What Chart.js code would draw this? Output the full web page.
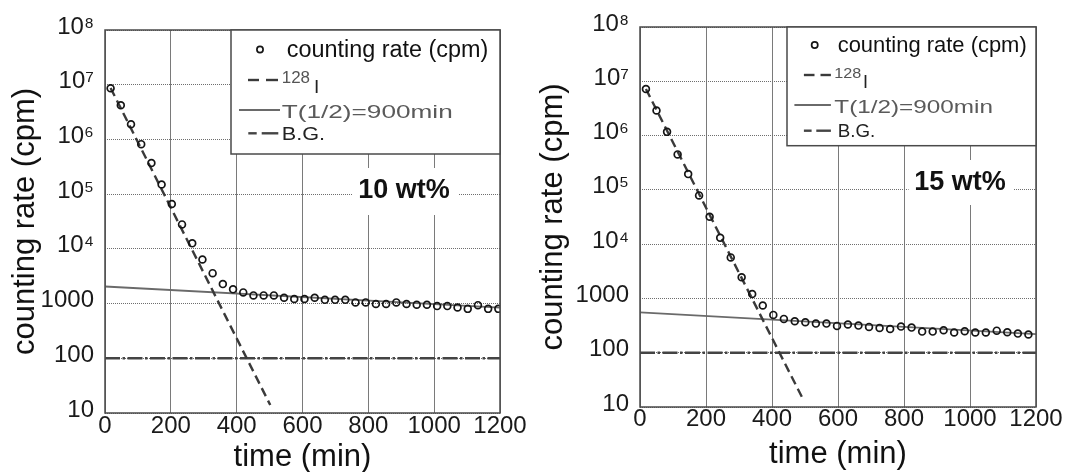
<!DOCTYPE html>
<html>
<head>
<meta charset="utf-8">
<script src="https://cdn.jsdelivr.net/npm/chart.js@4/dist/chart.umd.min.js"></script>
<style>
  html, body { margin: 0; padding: 0; background: #ffffff; }
  body { width: 1067px; height: 472px; position: relative; overflow: hidden; }
  .panel { position: absolute; top: 0; }
</style>
</head>
<body>
<div class="panel" style="left:0px;width:533px;height:472px;"><canvas id="cL" width="533" height="472"></canvas></div>
<div class="panel" style="left:533px;width:534px;height:472px;"><canvas id="cR" width="534" height="472"></canvas></div>
<script>
// ---------------- data ----------------
const seriesLabels = ['counting rate (cpm)', '128I', 'T(1/2)=900min', 'B.G.'];
const xTickValues = [0, 200, 400, 600, 800, 1000, 1200];
const xTickLabels = ['0', '200', '400', '600', '800', '1000', '1200'];
const yTickValues = [10, 100, 1000, 1e4, 1e5, 1e6, 1e7, 1e8];
const yTickLabels = ['10', '100', '1000', '10\u2074', '10\u2075', '10\u2076', '10\u2077', '10\u2078'];
const xTitle = 'time (min)';
const yTitle = 'counting rate (cpm)';
const panelNotes = ['10 wt%', '15 wt%'];

// left panel (10 wt%)
const timeL = [17, 48, 79, 110, 141, 172, 203, 234, 265, 296, 327, 358, 389, 420, 451, 482, 513, 544, 575, 606,
               637, 668, 699, 730, 761, 792, 823, 854, 885, 916, 947, 978, 1009, 1040, 1071, 1102, 1133, 1164, 1195];
const rateL = [8.6e6, 4.2e6, 1.9e6, 8.2e5, 3.7e5, 1.5e5, 6.6e4, 2.8e4, 1.26e4, 6.4e3, 3.6e3, 2270, 1820, 1600, 1410, 1410, 1410, 1280, 1210, 1210,
               1280, 1170, 1170, 1170, 1050, 1050, 980, 980, 1050, 980, 950, 950, 900, 900, 850, 800, 935, 800, 800];
const i128TimeL = [17, 502];
const i128RateL = [8.7e6, 14];
const halfTimeL = [0, 1200];
const halfRateL = [2050, 840];
const bgTimeL = [0, 1200];
const bgRateL = [100, 100];

// right panel (15 wt%)
const timeR = [18, 50, 82, 114, 146, 179, 211, 243, 275, 308, 340, 372, 404, 436, 469, 501, 533, 565, 597,
               630, 662, 694, 726, 758, 791, 823, 855, 887, 920, 952, 984, 1016, 1048, 1081, 1113, 1145, 1177];
const rateR = [7.2e6, 2.9e6, 1.17e6, 4.5e5, 1.95e5, 7.9e4, 3.2e4, 1.31e4, 5.7e3, 2450, 1210, 740, 497, 420, 379, 364, 344, 344, 312,
               330, 316, 299, 286, 274, 303, 290, 245, 245, 259, 235, 248, 235, 235, 255, 238, 225, 216];
const i128TimeR = [18, 497];
const i128RateR = [7.2e6, 12.8];
const halfTimeR = [0, 1200];
const halfRateR = [555, 220];
const bgTimeR = [0, 1200];
const bgRateR = [100, 100];

// ---------------- helpers ----------------
const FONT = '"Liberation Sans", Arial, Helvetica, sans-serif';
const pts = (xs, ys) => xs.map((x, i) => ({ x: x, y: ys[i] }));

function drawText(ctx, s, x, yb, font, color, targetW) {
  ctx.save();
  ctx.font = font; ctx.fillStyle = color; ctx.textAlign = 'left'; ctx.textBaseline = 'alphabetic';
  if (targetW) {
    const w = ctx.measureText(s).width;
    ctx.translate(x, yb); ctx.scale(targetW / w, 1); ctx.fillText(s, 0, 0);
  } else {
    ctx.fillText(s, x, yb);
  }
  ctx.restore();
}

const decoPlugin = {
  id: 'deco',
  afterDatasetsDraw(chart, args, opts) {
    const ctx = chart.ctx;
    const a = chart.chartArea;
    // annotation with white backing
    const n = opts.note;
    ctx.save();
    ctx.fillStyle = '#ffffff';
    ctx.fillRect(n.rect[0], n.rect[1], n.rect[2], n.rect[3]);
    ctx.font = 'bold 27px ' + FONT; ctx.fillStyle = '#111'; ctx.textAlign = 'center'; ctx.textBaseline = 'middle';
    ctx.fillText(n.text, n.cx, n.cy);
    ctx.restore();
    // plot frame
    ctx.save();
    ctx.strokeStyle = '#4a4a4a'; ctx.lineWidth = 1.5;
    ctx.strokeRect(a.left, a.top, a.right - a.left, a.bottom - a.top);
    ctx.restore();
    // legend box
    const L = opts.legend;
    ctx.save();
    ctx.fillStyle = '#ffffff';
    ctx.fillRect(L.box[0], L.box[1], L.box[2], L.box[3]);
    ctx.strokeStyle = '#4a4a4a'; ctx.lineWidth = 1.5;
    ctx.strokeRect(L.box[0], L.box[1], L.box[2], L.box[3]);
    ctx.restore();
    const ds = chart.data.datasets;
    L.rows.forEach((r, i) => {
      const d = ds[i];
      ctx.save();
      if (r.marker) {
        ctx.beginPath(); ctx.arc(r.marker[0], r.marker[1], r.marker[2], 0, Math.PI * 2);
        ctx.strokeStyle = d.pointBorderColor; ctx.lineWidth = d.pointBorderWidth; ctx.stroke();
      }
      if (r.segs) {
        ctx.strokeStyle = d.borderColor; ctx.lineWidth = d.borderWidth;
        r.segs.forEach(sg => { ctx.beginPath(); ctx.moveTo(sg[0], r.y); ctx.lineTo(sg[1], r.y); ctx.stroke(); });
      }
      ctx.restore();
      const label = d.label;
      const m = /^(\d+)(\D.*)$/.exec(label);
      if (m && r.sup) {
        drawText(ctx, m[1], r.sup[0], r.sup[1], r.sup[2] + 'px ' + FONT, '#555', r.sup[3]);
        drawText(ctx, m[2], r.main[0], r.main[1], r.main[2] + 'px ' + FONT, '#222');
      } else {
        drawText(ctx, label, r.text[0], r.text[1], r.text[2] + 'px ' + FONT, r.color, r.text[3]);
      }
    });
  }
};

function makeChart(id, data, cfg) {
  const datasets = [
    { label: seriesLabels[0], data: pts(data.t, data.r), showLine: false,
      pointRadius: 3.4, pointBorderWidth: 1.7, pointBorderColor: '#151515', pointBackgroundColor: 'rgba(0,0,0,0)',
      borderColor: '#151515' },
    { label: seriesLabels[1], data: pts(data.it, data.ir), showLine: true, pointRadius: 0,
      borderColor: '#3a3a3a', borderWidth: 2.4, borderDash: [9, 5] },
    { label: seriesLabels[2], data: pts(data.ht, data.hr), showLine: true, pointRadius: 0,
      borderColor: '#6a6a6a', borderWidth: 1.8 },
    { label: seriesLabels[3], data: pts(data.bt, data.br), showLine: true, pointRadius: 0,
      borderColor: '#444444', borderWidth: 2.4, borderDash: [15, 2.5, 2.5, 2.5] }
  ];
  return new Chart(document.getElementById(id), {
    type: 'scatter',
    data: { datasets },
    plugins: [decoPlugin],
    options: {
      responsive: false, animation: false, devicePixelRatio: 1,
      layout: { padding: cfg.padding },
      plugins: {
        legend: { display: false }, tooltip: { enabled: false },
        deco: { note: cfg.note, legend: cfg.legend }
      },
      scales: {
        x: {
          type: 'linear', min: 0, max: 1200,
          afterBuildTicks: s => { s.ticks = xTickValues.map(v => ({ value: v })); },
          afterFit: s => { s.height = cfg.xHeight; },
          ticks: { autoSkip: false, maxRotation: 0, padding: cfg.xTickPad, color: '#1a1a1a',
                   font: { family: FONT, size: 24, lineHeight: 1 },
                   callback: (v) => { const k = xTickValues.indexOf(v); return k >= 0 ? xTickLabels[k] : ''; } },
          grid: { color: '#7a7a7a', lineWidth: 1, drawTicks: false },
          border: { display: false },
          title: { display: true, text: xTitle, color: '#111',
                   font: { family: FONT, size: 31, lineHeight: 1 }, padding: { top: 0, bottom: cfg.xTitlePad } }
        },
        y: {
          type: 'logarithmic', min: 10, max: 1e8,
          afterBuildTicks: s => { s.ticks = yTickValues.map(v => ({ value: v, major: true })); },
          afterFit: s => { s.width = cfg.yWidth; },
          ticks: { autoSkip: false, padding: 11, labelOffset: -3, color: '#1a1a1a',
                   font: { family: FONT, size: 24, lineHeight: 1 },
                   callback: (v) => { const k = yTickValues.indexOf(v); return k >= 0 ? yTickLabels[k] : ''; } },
          grid: { color: '#6e6e6e', lineWidth: 1, drawTicks: false },
          border: { display: false, dash: [1, 1] },
          title: { display: true, text: yTitle, color: '#111',
                   font: { family: FONT, size: 31, lineHeight: 1 }, padding: { top: cfg.yTitlePad, bottom: 0 } }
        }
      }
    }
  });
}

makeChart('cL',
  { t: timeL, r: rateL, it: i128TimeL, ir: i128RateL, ht: halfTimeL, hr: halfRateL, bt: bgTimeL, br: bgRateL },
  {
    padding: { left: 0, top: 30, right: 33, bottom: 0 }, xHeight: 59, yWidth: 105,
    xTickPad: 1, xTitlePad: -1, yTitlePad: 10,
    note: { text: panelNotes[0], cx: 404, cy: 191, rect: [352, 168, 106, 47] },
    legend: {
      box: [231, 30, 269, 124],
      rows: [
        { marker: [260, 49.5, 3.1], text: [286.7, 56.7, 23, 201.7], color: '#111' },
        { y: 80, segs: [[248, 259], [266, 278]], sup: [281.7, 83.3, 16, 28.3], main: [314, 93.3, 19] },
        { y: 110, segs: [[239, 280]], text: [281.7, 117.7, 19, 171], color: '#5a5a5a' },
        { y: 133.3, segs: [[248.3, 256.7], [261.7, 278.3]], text: [281.7, 140, 19, 43.3], color: '#222' }
      ]
    }
  });

makeChart('cR',
  { t: timeR, r: rateR, it: i128TimeR, ir: i128RateR, ht: halfTimeR, hr: halfRateR, bt: bgTimeR, br: bgRateR },
  {
    padding: { left: 0, top: 27, right: 31, bottom: 0 }, xHeight: 65, yWidth: 107,
    xTickPad: 0, xTitlePad: 2.5, yTitlePad: 5.4,
    note: { text: panelNotes[1], cx: 427, cy: 182.5, rect: [375.6, 160, 104.7, 45] },
    legend: {
      box: [254, 27, 249, 118.7],
      rows: [
        { marker: [281.7, 45, 3.1], text: [304.7, 52.4, 21.5, 189], color: '#111' },
        { y: 75, segs: [[270.9, 281.5], [287.5, 297.9]], sup: [301.3, 78.3, 15, 27], main: [330, 88.3, 18] },
        { y: 105, segs: [[261.4, 297.9]], text: [301.3, 112.7, 18, 158.7], color: '#5a5a5a' },
        { y: 130.7, segs: [[270.9, 278.6], [283.3, 297.9]], text: [304.7, 137.4, 18, 37.5], color: '#222' }
      ]
    }
  });
</script>
</body>
</html>
